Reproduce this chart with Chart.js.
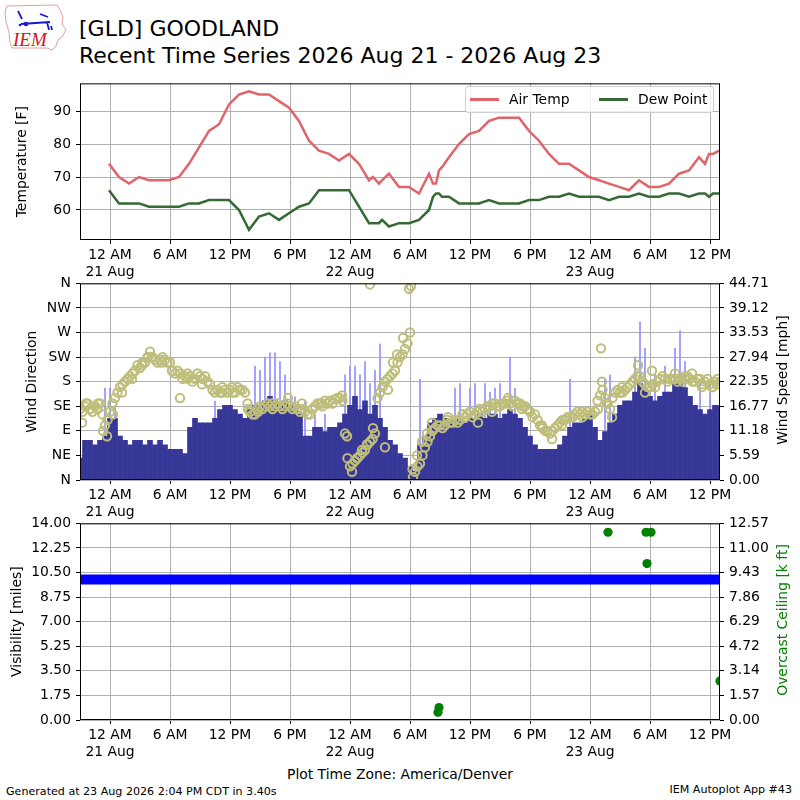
<!DOCTYPE html>
<html>
<head>
<meta charset="utf-8">
<title>GLD time series</title>
<script src="https://cdn.jsdelivr.net/npm/chart.js@4.4.0/dist/chart.umd.min.js"></script>
<style>
  body { margin: 0; background: #fff; }
  #page { position: relative; width: 800px; height: 800px; overflow: hidden; background: #fff;
          font-family: "DejaVu Sans", sans-serif; color: #000; }
  canvas { position: absolute; left: 0; }
  .txt { position: absolute; white-space: nowrap; line-height: 1; }
  .rot { position: absolute; white-space: nowrap; line-height: 1; font-size: 13.9px;
         transform: translate(-50%, -50%) rotate(-90deg); }
  #legend { position: absolute; left: 465px; top: 86px; width: 247px; height: 25px;
            border: 1px solid #d0d0d0; border-radius: 3px; background: rgba(255,255,255,0.8); }
  #legend .sw { position: absolute; top: 11px; width: 29px; height: 3px; }
  #legend .lb { position: absolute; top: 6px; font-size: 13.9px; line-height: 1; }
</style>
</head>
<body>
<div id="page">
  <svg style="position:absolute;left:0;top:0" width="70" height="54">
    <path d="M7,6 L57,5 L60,10 L63,17 L62,24 L66,30 L62,37 L58,40 L56,46 L52,50 L47,48 L12,48 L10,43 L9,32 L6,22 L5,12 Z"
          fill="none" stroke="#e98080" stroke-width="0.8"/>
    <path d="M18,11 L22,19 M21,24 L50,22 M40,14 L48,17 M47,22 L49,30 M51,26 L52,30" stroke="#1a1acc" stroke-width="1.8" fill="none"/>
    <circle cx="26" cy="24" r="2.3" fill="#1a1acc"/>
    <circle cx="20" cy="25" r="1.3" fill="#1a1acc"/>
    <text x="13" y="46" font-family="Liberation Serif, serif" font-style="italic" font-size="19" fill="#d01818">IEM</text>
  </svg>
  <div class="txt" style="left:79px;top:18.4px;font-size:22px">[GLD] GOODLAND</div>
  <div class="txt" style="left:79px;top:45.4px;font-size:22px">Recent Time Series 2026 Aug 21 - 2026 Aug 23</div>

  <canvas id="c1" width="800" height="210" style="top:70px"></canvas>
  <canvas id="c2" width="800" height="250" style="top:270px"></canvas>
  <canvas id="c3" width="800" height="250" style="top:510px"></canvas>

  <div id="legend">
    <div class="sw" style="left:4px;background:#e0646a"></div>
    <div class="lb" style="left:43px">Air Temp</div>
    <div class="sw" style="left:133px;background:#356a35"></div>
    <div class="lb" style="left:172px">Dew Point</div>
  </div>

  <div class="rot" style="left:783px;top:380px">Wind Speed [mph]</div>
  <div class="rot" style="left:783px;top:620px;color:#008000">Overcast Ceiling [k ft]</div>

  <div class="txt" style="left:400px;top:768px;font-size:13.9px;transform:translateX(-50%)">Plot Time Zone: America/Denver</div>
  <div class="txt" style="left:6px;top:786px;font-size:11.1px">Generated at 23 Aug 2026 2:04 PM CDT in 3.40s</div>
  <div class="txt" style="right:8px;top:784px;font-size:11.1px">IEM Autoplot App #43</div>
</div>

<script>
// hours since 21 Aug 00:00 (America/Denver)
const tickHours = [0, 6, 12, 18, 24, 30, 36, 42, 48, 54, 60];
const tickTimes = ["12 AM", "6 AM", "12 PM", "6 PM", "12 AM", "6 AM", "12 PM", "6 PM", "12 AM", "6 AM", "12 PM"];
const tickDates = ["21 Aug", "", "", "", "22 Aug", "", "", "", "23 Aug", "", ""];

// hourly obs
const obsHours = [-0.1, 0.9, 1.9, 2.9, 3.9, 4.9, 5.9, 6.9, 7.9, 8.9, 9.9, 10.9, 11.9, 12.9, 13.9, 14.9,
  15.9, 16.9, 17.9, 18.9, 19.9, 20.9, 21.9, 22.9, 23.9, 24.9, 25.9, 26.3, 26.9, 27.2, 27.9, 28.9, 29.9,
  30.9, 31.9, 32.3, 32.6, 32.9, 33.2, 33.9, 34.9, 35.9, 36.9, 37.9, 38.9, 39.9, 40.9, 41.9, 42.9, 43.9,
  44.9, 45.9, 46.9, 47.9, 48.9, 49.9, 50.9, 51.9, 52.9, 53.9, 54.9, 55.9, 56.9, 57.9, 58.9, 59.5, 59.9,
  60.3, 60.9];
const airTemp = [74, 70, 68, 70, 69, 69, 69, 70, 74, 79, 84, 86, 92, 95, 96, 95,
  95, 93, 91, 87, 81, 78, 77, 75, 77, 74, 69, 70, 68, 69, 71, 67, 67,
  65, 71, 68, 68, 72, 73, 76, 80, 83, 84, 87, 88, 88, 88, 84, 81, 77,
  74, 74, 72, 70, 69, 68, 67, 66, 69, 67, 67, 68, 71, 72, 76, 74, 77,
  77, 78];
const dewPoint = [66, 62, 62, 62, 61, 61, 61, 61, 62, 62, 63, 63, 63, 60, 54, 58,
  59, 57, 59, 61, 62, 66, 66, 66, 66, 61, 56, 56, 56, 57, 55, 56, 56,
  57, 60, 64, 65, 65, 64, 64, 62, 62, 62, 63, 62, 62, 62, 63, 63, 64,
  64, 65, 64, 64, 64, 63, 64, 64, 65, 64, 64, 65, 65, 64, 65, 65, 64,
  65, 65];

// half-hourly wind, starting 20 Aug 9 PM
const windSpeed = [5, 9, 9, 8, 9, 10, 14, 14, 10, 9,
  8, 9, 9, 8, 9, 8, 9, 8, 7, 7,
  7, 6, 12, 14, 13, 13, 13, 14, 16, 17,
  17, 16, 15, 14, 16, 17, 17, 18, 19, 18,
  17, 18, 17, 16, 15, 10, 10, 12, 12, 11,
  12, 12, 13, 15, 17, 19, 16, 18, 15, 17,
  14, 12, 9, 8, 6, 5, 3, 2, 8, 10,
  13, 14, 15, 14, 14, 14, 14, 13, 14, 14,
  15, 14, 15, 15, 14, 15, 16, 15, 14, 12,
  10, 8, 7, 7, 7, 7, 8, 10, 12, 13,
  13, 14, 15, 12, 9, 11, 13, 15, 17, 18,
  18, 20, 22, 21, 19, 18, 19, 20, 20, 22,
  22, 21, 19, 17, 16, 15, 16, 17, 17];
const windDir = [130, 135, 130, 135, 140, 100, 125, 150, 170, 180,
  190, 200, 205, 215, 235, 220, 220, 220, 215, 195,
  195, 190, 190, 185, 190, 190, 175, 160, 160, 165,
  165, 160, 165, 160, 125, 120, 135, 135, 135, 135,
  135, 135, 135, 135, 125, 125, 120, 135, 140, 145,
  145, 148, 150, 85, 25, 35, 45, 55, 70, 85,
  160, 180, 190, 200, 225, 240, 270, 15, 30, 60,
  80, 95, 100, 100, 105, 110, 110, 115, 125, 120,
  130, 130, 135, 140, 135, 140, 140, 145, 140, 135,
  125, 120, 100, 90, 85, 95, 105, 110, 115, 120,
  120, 120, 120, 125, 155, 150, 130, 160, 160, 165,
  175, 185, 190, 175, 170, 170, 185, 185, 185, 185,
  185, 185, 185, 180, 185, 180, 175, 180, 180];
const windHours = windSpeed.map((_, i) => -3 + i * 0.5);

// direction at quarter past / quarter to the hour, starting 20 Aug 9:15 PM
const windDirQ = [125, 140, 125, 130, 120, 110, 140, 160, 175, 185,
  195, 210, 215, 225, 225, 215, 225, 215, 200, 200,
  185, 195, 180, 195, 185, 180, 165, 165, 170, 160,
  160, 170, 165, 140, 120, 130, 130, 140, 130, 140,
  130, 140, 130, 130, 130, 120, 130, 140, 135, 140,
  140, 150, 145, 40, 30, 40, 50, 65, 75, 150,
  170, 185, 195, 215, 230, 250, 20, 25, 45, 70,
  90, 100, 95, 110, 105, 105, 120, 120, 115, 125,
  125, 135, 140, 135, 140, 145, 135, 140, 135, 130,
  115, 110, 95, 90, 90, 100, 110, 115, 115, 125,
  115, 125, 120, 145, 165, 140, 150, 165, 160, 170,
  180, 190, 180, 170, 175, 180, 190, 180, 185, 180,
  180, 190, 180, 185, 175, 185, 170, 185];
const windHoursQ = windDirQ.map((_, i) => -2.75 + i * 0.5);

// scattered direction reports off the regular samples
const dirExtraHours = [-2.8, -2.4, -1.2, -0.7, -0.3, 0.3, 1.2, 2.2, 3.2, 3.8, 4.2, 5.2, 6.2, 7.0, 7.8,
  9.2, 11.2, 12.2, 13.8, 14.8, 16.2, 17.8, 19.2, 21.2, 23.2, 23.7, 24.2, 24.7, 25.2, 25.7, 26.0,
  26.3, 27.5, 27.8, 28.3, 28.7, 29.3, 29.9, 30.1, 30.3, 30.7, 31.2, 31.7, 32.2, 33.8, 35.3, 36.8,
  38.2, 39.8, 41.2, 43.2, 44.2, 45.2, 47.2, 48.8, 49.1, 49.2, 49.7, 50.2, 51.2, 52.8, 53.5, 54.2,
  56.5, 57.5, 58.2, 59.2, 60.2, 60.7];
const dirExtraDeg = [105, 140, 140, 90, 80, 120, 160, 185, 210, 225, 225, 215, 200, 150, 185,
  175, 160, 170, 130, 125, 140, 150, 140, 140, 155, 80, 15, 40, 55, 65, 358,
  95, 60, 165, 215, 230, 260, 350, 355, 5, 45, 70, 85, 105, 115, 120, 105,
  125, 150, 130, 100, 75, 100, 125, 130, 241, 180, 140, 115, 170, 210, 160, 200,
  195, 190, 195, 170, 170, 175];

const gustHours = [-0.5, 0.0, 0.5, 10.5, 14.5, 15.0, 15.5, 16.0, 16.5, 17.0, 17.5, 18.5, 19.5, 20.5, 21.5,
  23.5, 24.0, 24.5, 25.0, 25.5, 26.0, 26.5, 27.0, 31.0, 34.5, 35.0, 36.0, 36.5, 37.5, 38.0, 38.5,
  39.0, 40.0, 40.5, 46.0, 49.5, 50.0, 52.5, 53.0, 53.5, 54.5, 55.5, 56.5, 57.0, 57.5, 59.0, 60.0];
const gustMph = [21, 21, 17, 18, 26, 25, 28, 29, 29, 27, 24, 19, 18, 15, 15,
  24, 26, 26, 24, 27, 22, 25, 31, 23, 21, 22, 21, 22, 22, 20, 21,
  22, 28, 21, 23, 23, 24, 28, 36, 30, 24, 26, 30, 34, 27, 23, 22];

const dirTicks = [0, 45, 90, 135, 180, 225, 270, 315, 360];
const dirLabels = ["N", "NE", "E", "SE", "S", "SW", "W", "NW", "N"];
const speedTicks = [0, 5.589, 11.178, 16.766, 22.355, 27.944, 33.533, 39.121, 44.71];
const speedLabels = ["0.00", "5.59", "11.18", "16.77", "22.35", "27.94", "33.53", "39.12", "44.71"];

const visHours = [-3, 0, 3, 6, 9, 12, 15, 18, 21, 24, 27, 30, 33, 36, 39, 42, 45, 48, 51, 54, 57, 60, 61];
const visMiles = [10, 10, 10, 10, 10, 10, 10, 10, 10, 10, 10, 10, 10, 10, 10, 10, 10, 10, 10, 10, 10, 10, 10];
const visTicks = [0, 1.75, 3.5, 5.25, 7, 8.75, 10.5, 12.25, 14];
const visLabels = ["0.00", "1.75", "3.50", "5.25", "7.00", "8.75", "10.50", "12.25", "14.00"];

const ceilHours = [32.8, 32.9, 49.8, 53.6, 53.7, 54.1, 61.0];
const ceilKft = [0.5, 0.8, 12.0, 12.0, 10.0, 12.0, 2.5];
const ceilTicks = [0, 1.571, 3.143, 4.714, 6.286, 7.857, 9.429, 11.0, 12.57];
const ceilLabels = ["0.00", "1.57", "3.14", "4.72", "6.29", "7.86", "9.43", "11.00", "12.57"];

const GRID = "#b0b0b0";
Chart.defaults.font.family = "'DejaVu Sans', sans-serif";
Chart.defaults.font.size = 13.9;
Chart.defaults.color = "#000";
Chart.defaults.animation = false;
Chart.defaults.events = [];
Chart.defaults.plugins.legend.display = false;
Chart.defaults.plugins.tooltip.enabled = false;

const framePlugin = {
  id: "frame",
  afterDraw(chart) {
    const { ctx, chartArea: a } = chart;
    ctx.save();
    ctx.strokeStyle = "#000";
    ctx.lineWidth = 1;
    ctx.strokeRect(a.left + 0.5, a.top + 0.5, a.right - a.left - 1, a.bottom - a.top - 1);
    ctx.restore();
  },
};

const pts = (xs, ys) => xs.map((x, i) => ({ x: x, y: ys[i] }));

function timeAxis() {
  return {
    type: "linear", min: -3, max: 61, offset: false,
    afterBuildTicks: (ax) => { ax.ticks = tickHours.map((v) => ({ value: v })); },
    afterFit: (ax) => { ax.height = 40; },
    ticks: {
      autoSkip: false, maxRotation: 0, padding: 3,
      callback: (v, i) => (tickDates[i] ? [tickTimes[i], tickDates[i]] : tickTimes[i]),
    },
    grid: { color: GRID, tickColor: "#000", tickLength: 4, offset: false },
    border: { display: false },
  };
}

function valueAxis(side, min, max, vals, labels, title, titlePad) {
  const ax = {
    type: "linear", position: side, min: min, max: max,
    afterBuildTicks: (a) => { a.ticks = vals.map((v) => ({ value: v })); },
    afterFit: (a) => { a.width = 80; },
    ticks: { padding: 5, callback: (v, i) => labels[i] },
    grid: { color: GRID, tickColor: "#000", tickLength: 4 },
    border: { display: false },
  };
  if (side === "right") ax.grid.drawOnChartArea = false;
  if (title) ax.title = { display: true, text: title, padding: { top: titlePad, bottom: 0 } };
  return ax;
}

const spacer = {
  position: "right", display: true,
  afterFit: (a) => { a.width = 80; },
  ticks: { display: false }, grid: { display: false }, border: { display: false },
};

// temperature panel
new Chart(document.getElementById("c1"), {
  type: "line",
  data: {
    datasets: [
      { label: "Air Temp", data: pts(obsHours, airTemp), borderColor: "#e0646a", borderWidth: 2.5, pointRadius: 0, yAxisID: "y" },
      { label: "Dew Point", data: pts(obsHours, dewPoint), borderColor: "#356a35", borderWidth: 2.5, pointRadius: 0, yAxisID: "y" },
    ],
  },
  options: {
    responsive: false,
    layout: { padding: { top: 10, right: 0, bottom: 0, left: 0 } },
    scales: {
      x: timeAxis(),
      y: valueAxis("left", 50.9, 98.4, [60, 70, 80, 90], ["60", "70", "80", "90"], "Temperature [F]", 14),
      pad: spacer,
    },
  },
  plugins: [framePlugin],
});

// wind panel
const dirStyle = {
  type: "scatter", yAxisID: "yDir", order: 0,
  pointStyle: "circle", pointRadius: 4.2, borderWidth: 2,
  borderColor: "rgb(190,190,122)", backgroundColor: "rgba(0,0,0,0)",
};
new Chart(document.getElementById("c2"), {
  type: "scatter",
  data: {
    datasets: [
      Object.assign({ label: "Direction", data: pts(windHours, windDir) }, dirStyle),
      Object.assign({ label: "Direction :15", data: pts(windHoursQ, windDirQ) }, dirStyle),
      Object.assign({ label: "Direction extra", data: pts(dirExtraHours, dirExtraDeg) }, dirStyle),
      {
        type: "bar", label: "Speed", data: pts(windHours, windSpeed), yAxisID: "ySpd", order: 1,
        backgroundColor: "rgb(55,55,152)", borderWidth: 0, grouped: false,
        barPercentage: 1, categoryPercentage: 1,
      },
      {
        type: "bar", label: "Gust", data: pts(gustHours, gustMph), yAxisID: "ySpd", order: 2,
        backgroundColor: "rgb(150,150,255)", borderWidth: 0, grouped: false,
        barPercentage: 0.35, categoryPercentage: 1,
      },
    ],
  },
  options: {
    responsive: false,
    layout: { padding: { top: 10, right: 0, bottom: 0, left: 0 } },
    scales: {
      x: timeAxis(),
      yDir: valueAxis("left", 0, 360, dirTicks, dirLabels, "Wind Direction", 24),
      ySpd: valueAxis("right", 0, 44.71, speedTicks, speedLabels),
    },
  },
  plugins: [framePlugin],
});

// visibility / ceiling panel
new Chart(document.getElementById("c3"), {
  type: "scatter",
  data: {
    datasets: [
      {
        label: "Ceiling", data: pts(ceilHours, ceilKft), yAxisID: "yCeil", order: 0,
        pointRadius: 4.6, borderWidth: 0, backgroundColor: "#008000", borderColor: "#008000",
      },
      {
        type: "line", label: "Visibility", data: pts(visHours, visMiles), yAxisID: "yVis", order: 1,
        borderColor: "#0000ff", borderWidth: 10, pointRadius: 0, borderCapStyle: "butt",
      },
    ],
  },
  options: {
    responsive: false,
    layout: { padding: { top: 10, right: 0, bottom: 0, left: 0 } },
    scales: {
      x: timeAxis(),
      yVis: valueAxis("left", 0, 14, visTicks, visLabels, "Visibility [miles]", 9),
      yCeil: valueAxis("right", 0, 12.57, ceilTicks, ceilLabels),
    },
  },
  plugins: [framePlugin],
});
</script>
</body>
</html>
